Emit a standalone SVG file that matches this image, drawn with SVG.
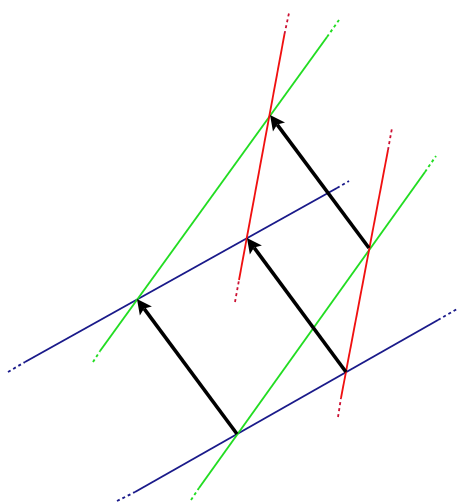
<svg xmlns="http://www.w3.org/2000/svg" width="458" height="502" viewBox="0 0 458 502">
<style>
.blue{stroke:#1a1a8a;stroke-width:1.9;fill:none}
.green{stroke:#22dd22;stroke-width:1.9;fill:none}
.red{stroke:#f01010;stroke-width:1.8;fill:none}
.dash{stroke-dasharray:3 3}
.reddash{stroke:#cc1133}
.arrow{stroke:#000;stroke-width:3.6;fill:none;marker-end:url(#ah)}
</style>
<defs>
<marker id="ah" markerUnits="userSpaceOnUse" markerWidth="22" markerHeight="22" refX="3" refY="0" viewBox="-2 -10 22 20" orient="auto">
<path d="M0,-7.5 L15,0 L0,7.5 L3,0 Z" fill="#000"/>
</marker>
</defs>
<rect width="458" height="502" fill="#fff"/>
<g id="blue-lines">
<line class="blue dash" x1="8" y1="372" x2="25" y2="362"/>
<line class="blue" x1="25" y1="362" x2="337" y2="188"/>
<line class="blue dash" x1="337" y1="188" x2="349" y2="181"/>
<line class="blue dash" x1="117" y1="501" x2="135" y2="492"/>
<line class="blue" x1="135" y1="492" x2="438" y2="320"/>
<line class="blue dash" x1="438" y1="320" x2="457" y2="309"/>
</g>
<g id="green-lines">
<line class="green dash" x1="93" y1="362" x2="100" y2="351"/>
<line class="green" x1="100" y1="351" x2="327" y2="37"/>
<line class="green dash" x1="327" y1="37" x2="339" y2="20"/>
<line class="green dash" x1="191" y1="500" x2="199" y2="488"/>
<line class="green" x1="199" y1="488" x2="425" y2="172"/>
<line class="green dash" x1="425" y1="172" x2="436" y2="156"/>
</g>
<g id="red-lines">
<line class="red dash reddash" x1="235" y1="302" x2="239" y2="280"/>
<line class="red" x1="239" y1="280" x2="284.5" y2="34"/>
<line class="red dash reddash" x1="284.5" y1="34" x2="289" y2="13"/>
<line class="red dash reddash" x1="338" y1="417" x2="341" y2="398"/>
<line class="red" x1="341" y1="398" x2="388" y2="150"/>
<line class="red dash reddash" x1="388" y1="150" x2="392" y2="128"/>
</g>
<g id="connectors">
<line class="arrow" x1="237" y1="434" x2="144.1" y2="308.6"/>
<line class="arrow" x1="346" y1="372" x2="254.1" y2="247.6"/>
<line class="arrow" x1="369" y1="248" x2="277.2" y2="124.6"/>
</g>
</svg>
